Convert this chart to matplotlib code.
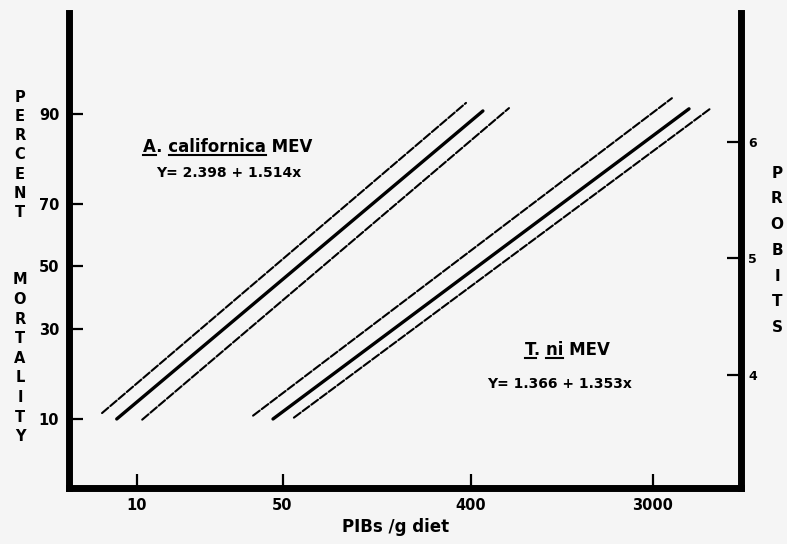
import matplotlib
matplotlib.use('Agg')
from statistics import NormalDist

from matplotlib import pyplot as plt
from matplotlib.lines import Line2D
from matplotlib.ticker import NullLocator

nd = NormalDist()


def probit(pct):
    return 5 + nd.inv_cdf(pct / 100.0)


# line ends: dose (PIBs/g diet), percent mortality
acal_fit_dose = [8.0, 458]
acal_fit_pct = [10.0, 90.4]
acal_up_dose = [6.8, 380]
acal_up_pct = [10.9, 91.5]
acal_lo_dose = [10.6, 611]
acal_lo_pct = [9.9, 90.8]

tni_fit_dose = [45.0, 4470]
tni_fit_pct = [10.0, 90.7]
tni_up_dose = [36.1, 3700]
tni_up_pct = [10.5, 92.1]
tni_lo_dose = [56.7, 5700]
tni_lo_pct = [10.2, 90.8]

x_ticks = [10, 50, 400, 3000]
pct_ticks = [10, 30, 50, 70, 90]
probit_ticks = [4, 5, 6]

W, H = 787, 544
bg = '#f5f5f5'


def fx(px):
    return px / W


def fy(py):
    return 1 - py / H


fig = plt.figure(figsize=(W / 100, H / 100), dpi=100, facecolor=bg)
ax = fig.add_axes([fx(69), fy(488), (741 - 69) / W, (488 - 13) / H])
ax.set_facecolor(bg)
ax.set_xscale('log')
ax.set_xlim(4.72, 7940)
ax.set_ylim(3.139, 7.127)

solid = dict(color='black', lw=2.4, solid_capstyle='round')
dashed = dict(color='black', lw=1.5, dashes=(4, 1.2), dash_capstyle='round')

for dose, pct, kw in [(acal_up_dose, acal_up_pct, dashed),
                      (acal_fit_dose, acal_fit_pct, solid),
                      (acal_lo_dose, acal_lo_pct, dashed),
                      (tni_up_dose, tni_up_pct, dashed),
                      (tni_fit_dose, tni_fit_pct, solid),
                      (tni_lo_dose, tni_lo_pct, dashed)]:
    ax.plot(dose, [probit(p) for p in pct], **kw)

ax.set_xticks(x_ticks)
ax.set_xticklabels([str(v) for v in x_ticks])
ax.xaxis.set_minor_locator(NullLocator())
ax.set_yticks([probit(p) for p in pct_ticks])
ax.set_yticklabels([str(p) for p in pct_ticks])
ax.tick_params(direction='in', length=10, width=1.6, labelsize=10.5, pad=7)
for lab in ax.get_xticklabels() + ax.get_yticklabels():
    lab.set_fontweight('bold')

# right hand probit scale sits a little higher than the percent scale
ax2 = ax.twinx()
ax2.set_ylim(3.026, 7.103)
ax2.set_yticks(probit_ticks)
ax2.set_yticklabels([str(v) for v in probit_ticks])
ax2.tick_params(direction='in', length=10, width=1.6, labelsize=9, pad=5)
for lab in ax2.get_yticklabels():
    lab.set_fontweight('bold')

for a in (ax, ax2):
    for side in ('top', 'left', 'right', 'bottom'):
        a.spines[side].set_visible(False)
for side in ('left', 'bottom'):
    ax.spines[side].set_visible(True)
    ax.spines[side].set_linewidth(5)
    ax.spines[side].set_capstyle('projecting')
ax2.spines['right'].set_visible(True)
ax2.spines['right'].set_linewidth(5)
ax2.spines['right'].set_capstyle('projecting')

bold = dict(fontweight='bold', color='black')

fig.text(fx(396), fy(527), 'PIBs /g diet', ha='center', va='center',
         fontsize=12, **bold)

for i, ch in enumerate('PERCENT'):
    fig.text(fx(20), fy(97 + 19.3 * i), ch, ha='center', va='center',
             fontsize=10.5, **bold)
for i, ch in enumerate('MORTALITY'):
    fig.text(fx(20), fy(280 + 19.6 * i), ch, ha='center', va='center',
             fontsize=10.5, **bold)
for i, ch in enumerate('PROBITS'):
    fig.text(fx(777), fy(173 + 25.8 * i), ch, ha='center', va='center',
             fontsize=11, **bold)

t_acal = fig.text(fx(228), fy(147), 'A. californica MEV', ha='center',
                  va='center', fontsize=12, **bold)
fig.text(fx(229), fy(173), 'Y= 2.398 + 1.514x', ha='center', va='center',
         fontsize=10, **bold)
t_tni = fig.text(fx(567), fy(350), 'T. ni MEV', ha='center', va='center',
                 fontsize=12, **bold)
fig.text(fx(560), fy(384), 'Y= 1.366 + 1.353x', ha='center', va='center',
         fontsize=10, **bold)

# underline the latin names
fig.canvas.draw()
rend = fig.canvas.get_renderer()


def text_width(s, size, pad=False):
    t = fig.text(0, 0, s + ('l' if pad else ''), fontsize=size, **bold)
    w = t.get_window_extent(rend).width
    if pad:
        t.set_text('l')
        w -= t.get_window_extent(rend).width
    t.remove()
    return w


def underline(txt, start, stop):
    s = txt.get_text()
    size = txt.get_fontsize()
    bb = txt.get_window_extent(rend)
    x0 = bb.x0 + (text_width(s[:start], size, pad=True) if start else 0)
    x1 = x0 + text_width(s[start:stop], size)
    y = bb.y0 + 1.5
    fig.add_artist(Line2D([x0 / W, x1 / W], [y / H, y / H],
                          transform=fig.transFigure, lw=1.5, color='black'))


underline(t_acal, 0, 1)
underline(t_acal, 3, 14)
underline(t_tni, 0, 1)
underline(t_tni, 3, 5)

fig.savefig('out.png', dpi=100, facecolor=bg)
